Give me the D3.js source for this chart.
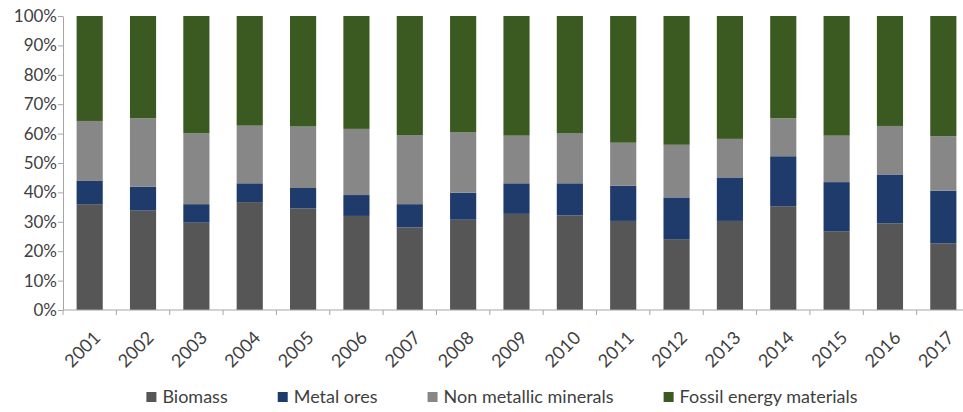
<!DOCTYPE html>
<html>
<head>
<meta charset="utf-8">
<script src="https://cdn.jsdelivr.net/npm/d3@7"></script>
<style>
  body { margin: 0; background: #fff; }
  text { font-family: Lato, 'Open Sans', sans-serif; fill: #3f3f3f; }
</style>
</head>
<body>
<svg width="963" height="412"></svg>
<script>
'use strict'

// shares in % per year
const years = ['2001', '2002', '2003', '2004', '2005', '2006', '2007', '2008', '2009',
  '2010', '2011', '2012', '2013', '2014', '2015', '2016', '2017']
const biomass = [36.0, 33.8, 29.7, 36.7, 34.5, 32.0, 28.1, 30.7, 32.7, 32.2, 30.3, 24.1, 30.3, 35.3, 26.8, 29.5, 22.7]
const metalOres = [7.9, 8.1, 6.3, 6.4, 7.0, 7.1, 7.9, 9.2, 10.4, 10.9, 12.0, 14.2, 14.8, 17.0, 16.7, 16.6, 17.9]
const nonMetallic = [20.4, 23.3, 24.1, 19.6, 20.9, 22.5, 23.5, 20.5, 16.2, 17.1, 14.6, 17.9, 13.1, 12.9, 15.8, 16.5, 18.5]
const fossil = [35.7, 34.8, 39.9, 37.3, 37.6, 38.4, 40.5, 39.6, 40.7, 39.8, 43.1, 43.8, 41.8, 34.8, 40.7, 37.4, 40.9]

const seriesNames = ['Biomass', 'Metal ores', 'Non metallic minerals', 'Fossil energy materials']
const seriesColors = ['#565656', '#1f3b6c', '#878787', '#3b5a22']
const yTicks = [0, 0.1, 0.2, 0.3, 0.4, 0.5, 0.6, 0.7, 0.8, 0.9, 1]

const margin = { top: 16, left: 63 }
const width = 907,
  height = 294

const rows = years.map((y, i) => ({
  year: y,
  'Biomass': biomass[i],
  'Metal ores': metalOres[i],
  'Non metallic minerals': nonMetallic[i],
  'Fossil energy materials': fossil[i]
}))

const stacked = d3.stack()
  .keys(seriesNames)
  .offset(d3.stackOffsetExpand)(rows)

const svg = d3.select('svg')
const g = svg.append('g')
  .attr('transform', 'translate(' + margin.left + ',' + margin.top + ')')

const xScale = d3.scaleBand()
  .domain(years)
  .range([0, width])
  .paddingInner(0.51)
  .paddingOuter(0.255)

const yScale = d3.scaleLinear()
  .domain([0, 1])
  .range([height, 0])

const color = d3.scaleOrdinal().domain(seriesNames).range(seriesColors)

// bars
g.selectAll('g.layer')
  .data(stacked)
  .join('g')
  .attr('class', 'layer')
  .attr('fill', d => color(d.key))
  .selectAll('rect')
  .data(d => d)
  .join('rect')
  .attr('x', d => xScale(d.data.year))
  .attr('width', xScale.bandwidth())
  .attr('y', d => yScale(d[1]))
  .attr('height', d => yScale(d[0]) - yScale(d[1]))

// y axis
const yAxis = g.append('g')
  .call(d3.axisLeft(yScale).tickValues(yTicks).tickFormat(d3.format('.0%')).tickSize(5).tickSizeOuter(0))
yAxis.selectAll('path, line').attr('stroke', '#a6a6a6')
yAxis.selectAll('text').attr('x', -6).style('font-size', '17px').attr('fill', '#3f3f3f')

// x axis with ticks on band boundaries
const step = xScale.step()
const xAxis = g.append('g').attr('transform', 'translate(0,' + height + ')')
xAxis.append('line')
  .attr('x1', 0).attr('x2', width)
  .attr('stroke', '#a6a6a6')
xAxis.selectAll('line.tick')
  .data(d3.range(years.length + 1))
  .join('line')
  .attr('class', 'tick')
  .attr('x1', i => i * step).attr('x2', i => i * step)
  .attr('y1', 0).attr('y2', 5)
  .attr('stroke', '#a6a6a6')

xAxis.selectAll('text')
  .data(years)
  .join('text')
  .attr('transform', d => 'translate(' + (xScale(d) + xScale.bandwidth() / 2 + 3) + ',20) rotate(-45)')
  .attr('text-anchor', 'end')
  .attr('dy', '0.7em')
  .style('font-size', '18px')
  .text(d => d)

// legend, centred under the plot
const legend = svg.append('g').attr('transform', 'translate(0,397)')
const items = legend.selectAll('g')
  .data(seriesNames)
  .join('g')
items.append('rect')
  .attr('y', -5)
  .attr('width', 10)
  .attr('height', 10)
  .attr('fill', d => color(d))
items.append('text')
  .attr('x', 16)
  .attr('dy', '0.35em')
  .style('font-size', '18px')
  .text(d => d)

let offset = 0
const widths = []
items.each(function() {
  const w = 16 + d3.select(this).select('text').node().getComputedTextLength()
  widths.push(w)
})
const total = d3.sum(widths) + 50 * (widths.length - 1)
const start = 502 - total / 2
items.attr('transform', (d, i) => {
  const x = start + offset
  offset += widths[i] + 50
  return 'translate(' + x + ',0)'
})
</script>
</body>
</html>
